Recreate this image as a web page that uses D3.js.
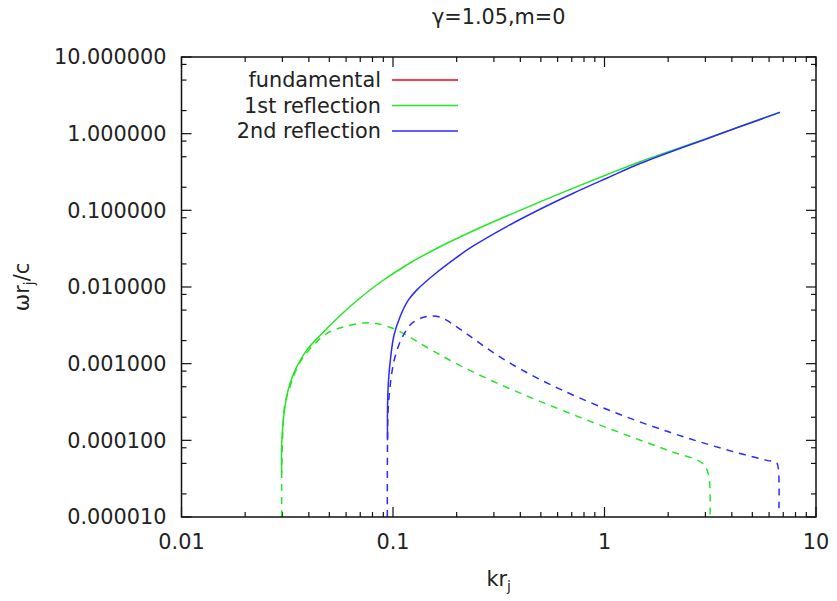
<!DOCTYPE html>
<html>
<head>
<meta charset="utf-8">
<script src="https://cdn.jsdelivr.net/npm/d3@7"></script>
<style>
  body { margin: 0; background: #fff; }
  text { font-family: "DejaVu Sans", sans-serif; fill: #222; }
</style>
</head>
<body>
<div id="chart"></div>
<script>
// axis ticks
const xTicks = [0.01, 0.1, 1, 10];
const xTickLabels = ["0.01", "0.1", "1", "10"];
const yTicks = [1e-5, 1e-4, 1e-3, 1e-2, 1e-1, 1, 10];
const yTickLabels = ["0.000010", "0.000100", "0.001000", "0.010000", "0.100000", "1.000000", "10.000000"];
const yMinorSteps = [2, 5, 8];

// series: [k r_j, omega r_j / c]
const fundamental = [];
const firstReal = [
  [0.02977, 3.71e-5], [0.02977, 9.14e-5], [0.03029, 1.82e-4], [0.03119, 3.33e-4],
  [0.03258, 5.50e-4], [0.03505, 9.06e-4], [0.03908, 1.50e-3], [0.04592, 2.442e-3],
  [0.05418, 3.856e-3], [0.0674, 6.624e-3], [0.0868, 0.01145], [0.1203, 0.02057],
  [0.1668, 0.03348], [0.2397, 0.05417], [0.3448, 0.0842], [0.4955, 0.1291],
  [0.712, 0.1949], [1.024, 0.2916], [1.472, 0.431], [3.188, 0.9083], [6.757, 1.91]
];
const firstImag = [
  [0.02977, 1.0e-5], [0.02977, 3.71e-5], [0.03003, 1.0e-4], [0.03086, 3.01e-4],
  [0.03258, 4.97e-4], [0.03478, 8.2e-4], [0.03766, 1.22e-3], [0.04277, 1.83e-3],
  [0.04858, 2.47e-3], [0.0582, 3.01e-3], [0.0724, 3.40e-3], [0.0837, 3.34e-3],
  [0.1003, 2.87e-3], [0.1161, 2.35e-3], [0.1342, 1.84e-3], [0.1609, 1.38e-3],
  [0.186, 1.107e-3], [0.2578, 7.06e-4], [0.3574, 4.70e-4], [0.4955, 3.22e-4],
  [0.6998, 2.20e-4], [0.987, 1.52e-4], [1.42, 1.046e-4], [2.04, 7.23e-5],
  [2.882, 5.10e-5], [3.096, 3.67e-5], [3.153, 1.0e-5]
];
const secondReal = [
  [0.0942, 1.0e-4], [0.0942, 2.47e-4], [0.0950, 5.50e-4], [0.0975, 1.22e-3],
  [0.1011, 2.35e-3], [0.1079, 4.07e-3], [0.1181, 6.73e-3], [0.1294, 9.11e-3],
  [0.1609, 0.01546], [0.2001, 0.02442], [0.2397, 0.03429], [0.3448, 0.06144],
  [0.4955, 0.1034], [0.712, 0.1672], [1.024, 0.2624], [1.472, 0.4083],
  [3.188, 0.900], [6.757, 1.897]
];
const secondImag = [
  [0.0940, 1.0e-5], [0.0942, 9.14e-5], [0.0950, 2.72e-4], [0.0986, 7.43e-4],
  [0.1022, 1.22e-3], [0.1099, 2.13e-3], [0.1226, 3.34e-3], [0.1443, 4.12e-3],
  [0.1668, 4.04e-3], [0.2001, 3.03e-3], [0.2312, 2.28e-3], [0.2673, 1.713e-3],
  [0.3093, 1.306e-3], [0.364, 9.88e-4], [0.4286, 7.67e-4], [0.5047, 6.07e-4],
  [0.5943, 4.88e-4], [0.6998, 3.96e-4], [0.987, 2.65e-4], [1.42, 1.80e-4],
  [2.04, 1.272e-4], [2.829, 9.53e-5], [4.064, 7.12e-5], [5.847, 5.48e-5],
  [6.52, 5.09e-5], [6.65, 4.06e-5], [6.68, 1.3e-5]
];

const series = [
  { name: "fundamental", color: "#ff0000", real: fundamental, imag: [] },
  { name: "1st reflection", color: "#25e625", real: firstReal, imag: firstImag },
  { name: "2nd reflection", color: "#2a2aff", real: secondReal, imag: secondImag }
];

const W = 837, H = 601;
const margin = { top: 57, right: 21, bottom: 84, left: 181.5 };
const fontSize = "20.8px";

const svg = d3.select("#chart").append("svg")
  .attr("width", W)
  .attr("height", H);

const x = d3.scaleLog().domain([0.01, 10]).range([margin.left, W - margin.right]);
const y = d3.scaleLog().domain([1e-5, 10]).range([H - margin.bottom, margin.top]);

// clip lines to the plot box
svg.append("clipPath").attr("id", "clip")
  .append("rect")
  .attr("x", margin.left).attr("y", margin.top)
  .attr("width", x.range()[1] - margin.left)
  .attr("height", y.range()[0] - margin.top);

// minor ticks
const xMinor = [];
for (let d = 0.01; d < 10; d *= 10) for (let i = 2; i <= 9; i++) xMinor.push(d * i);
const yMinor = [];
for (let d = 1e-5; d < 10; d *= 10) yMinorSteps.forEach(i => yMinor.push(d * i));

const axisColor = "#111";
const ticks = svg.append("g").attr("stroke", axisColor).attr("stroke-width", 1.2);
const x0 = x.range()[0], x1 = x.range()[1], y0 = y.range()[0], y1 = y.range()[1];

function xTick(v, len) {
  ticks.append("line").attr("x1", x(v)).attr("x2", x(v)).attr("y1", y0).attr("y2", y0 - len);
  ticks.append("line").attr("x1", x(v)).attr("x2", x(v)).attr("y1", y1).attr("y2", y1 + len);
}
function yTick(v, len) {
  ticks.append("line").attr("y1", y(v)).attr("y2", y(v)).attr("x1", x0).attr("x2", x0 + len);
  ticks.append("line").attr("y1", y(v)).attr("y2", y(v)).attr("x1", x1).attr("x2", x1 - len);
}
xMinor.forEach(v => xTick(v, 5));
xTicks.forEach(v => xTick(v, 10));
yMinor.forEach(v => yTick(v, 5));
yTicks.forEach(v => yTick(v, 10));

// tick labels
svg.append("g").selectAll("text")
  .data(xTicks)
  .enter().append("text")
  .attr("x", d => x(d))
  .attr("y", y0 + 32)
  .attr("text-anchor", "middle")
  .style("font-size", fontSize)
  .text((d, i) => xTickLabels[i]);

svg.append("g").selectAll("text")
  .data(yTicks)
  .enter().append("text")
  .attr("x", x0 - 15)
  .attr("y", d => y(d))
  .attr("dy", "0.36em")
  .attr("text-anchor", "end")
  .style("font-size", fontSize)
  .text((d, i) => yTickLabels[i]);

// curves
const line = d3.line()
  .x(d => x(d[0]))
  .y(d => y(d[1]))
  .curve(d3.curveCatmullRom.alpha(0.5));

const plot = svg.append("g").attr("clip-path", "url(#clip)");
series.forEach(s => {
  if (s.imag.length) {
    plot.append("path")
      .datum(s.imag)
      .attr("d", line)
      .attr("fill", "none")
      .attr("stroke", s.color)
      .attr("stroke-width", 1.5)
      .attr("stroke-dasharray", "7,6");
  }
  if (s.real.length) {
    plot.append("path")
      .datum(s.real)
      .attr("d", line)
      .attr("fill", "none")
      .attr("stroke", s.color)
      .attr("stroke-width", 1.5);
  }
});

// border
svg.append("rect")
  .attr("x", x0).attr("y", y1)
  .attr("width", x1 - x0).attr("height", y0 - y1)
  .attr("fill", "none")
  .attr("stroke", axisColor)
  .attr("stroke-width", 1.5);

// legend
const legend = svg.append("g");
series.forEach((s, i) => {
  const ly = 80 + i * 25.5;
  legend.append("text")
    .attr("x", 381)
    .attr("y", ly)
    .attr("dy", "0.36em")
    .attr("text-anchor", "end")
    .style("font-size", fontSize)
    .text(s.name);
  legend.append("line")
    .attr("x1", 392).attr("x2", 458)
    .attr("y1", ly).attr("y2", ly)
    .attr("stroke", s.color)
    .attr("stroke-width", 1.5);
});

// title and axis labels
svg.append("text")
  .attr("x", (x0 + x1) / 2)
  .attr("y", 24)
  .attr("text-anchor", "middle")
  .style("font-size", fontSize)
  .text("γ=1.05,m=0");

const xl = svg.append("text")
  .attr("x", (x0 + x1) / 2)
  .attr("y", 586)
  .attr("text-anchor", "middle")
  .style("font-size", fontSize);
xl.append("tspan").text("kr");
xl.append("tspan").attr("dy", 5).style("font-size", "14px").text("j");

const yl = svg.append("text")
  .attr("transform", "translate(29," + ((y0 + y1) / 2) + ") rotate(-90)")
  .attr("text-anchor", "middle")
  .style("font-size", fontSize);
yl.append("tspan").text("ωr");
yl.append("tspan").attr("dy", 5).style("font-size", "14px").text("j");
yl.append("tspan").attr("dy", -5).text("/c");
</script>
</body>
</html>
